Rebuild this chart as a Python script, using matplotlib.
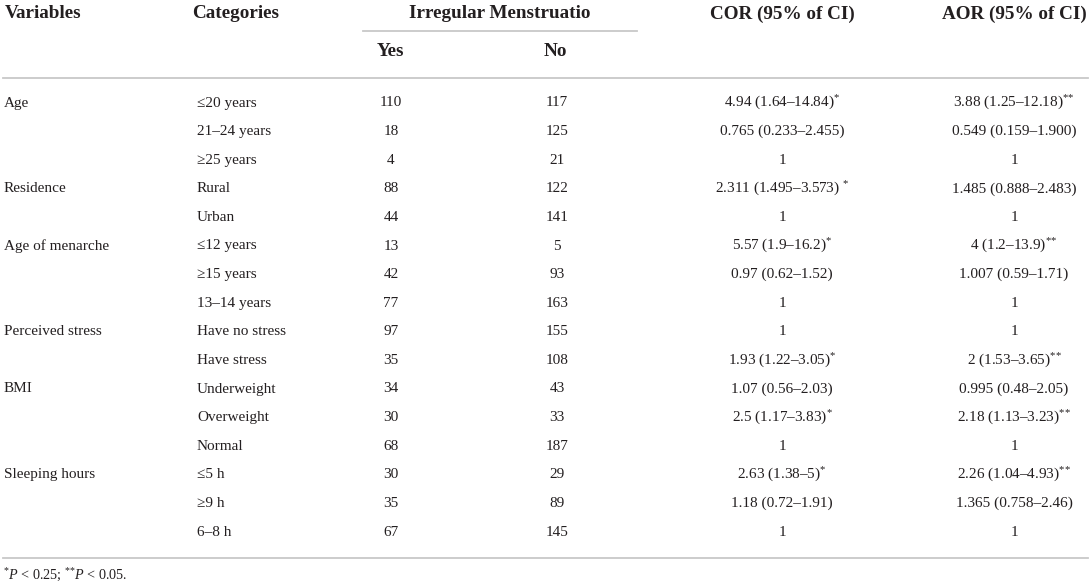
import matplotlib
matplotlib.use("Agg")
import matplotlib.pyplot as plt

plt.rcParams['font.family'] = ['Liberation Serif', 'DejaVu Serif']
plt.rcParams['mathtext.fontset'] = 'custom'
plt.rcParams['mathtext.rm'] = 'Liberation Serif'
plt.rcParams['mathtext.it'] = 'Liberation Serif:italic'

variables = ["Age", "", "", "Residence", "", "Age of menarche", "", "",
             "Perceived stress", "", "BMI", "", "", "Sleeping hours", "", ""]
categories = ["≤20 years", "21–24 years", "≥25 years", "Rural", "Urban",
              "≤12 years", "≥15 years", "13–14 years", "Have no stress",
              "Have stress", "Underweight", "Overweight", "Normal",
              "≤5 h", "≥9 h", "6–8 h"]
yes_counts = [110, 18, 4, 88, 44, 13, 42, 77, 97, 35, 34, 30, 68, 30, 35, 67]
no_counts = [117, 125, 21, 122, 141, 5, 93, 163, 155, 108, 43, 33, 187, 29, 89, 145]
cor = ["4.94 (1.64–14.84)*", "0.765 (0.233–2.455)", "1",
       "2.311 (1.495–3.573) *", "1", "5.57 (1.9–16.2)*", "0.97 (0.62–1.52)",
       "1", "1", "1.93 (1.22–3.05)*", "1.07 (0.56–2.03)", "2.5 (1.17–3.83)*",
       "1", "2.63 (1.38–5)*", "1.18 (0.72–1.91)", "1"]
aor = ["3.88 (1.25–12.18)**", "0.549 (0.159–1.900)", "1",
       "1.485 (0.888–2.483)", "1", "4 (1.2–13.9)**", "1.007 (0.59–1.71)",
       "1", "1", "2 (1.53–3.65)**", "0.995 (0.48–2.05)", "2.18 (1.13–3.23)**",
       "1", "2.26 (1.04–4.93)**", "1.365 (0.758–2.46)", "1"]

ink = "#231f20"
rule = "#c8c8c8"


def stars(n):
    # superscript asterisks without operator spacing
    return "$^{" + "{*}" * n + "}$"


def sup_stars(s):
    core = s.rstrip("* ")
    tail = s[len(core):]
    n = tail.count("*")
    if n == 0:
        return s
    gap = " " if tail.startswith(" ") else ""
    return core + gap + stars(n)


fig = plt.figure(figsize=(10.91, 5.85), dpi=100)
ax = fig.add_axes([0, 0, 1, 1])
ax.set_xlim(0, 1091)
ax.set_ylim(585, 0)
ax.axis("off")

hsize = 13.8
dsize = 11

# header
ax.text(5, 14, "Variables", fontsize=hsize, fontweight="bold", color=ink, va="center")
ax.text(192, 14, "Categories", fontsize=hsize, fontweight="bold", color=ink, va="center")
ax.text(500, 14, "Irregular Menstruatio", fontsize=hsize, fontweight="bold", color=ink,
        va="center", ha="center")
ax.text(782, 14, "COR (95% of CI)", fontsize=hsize, fontweight="bold", color=ink,
        va="center", ha="center")
ax.text(1014, 14, "AOR (95% of CI)", fontsize=hsize, fontweight="bold", color=ink,
        va="center", ha="center")
ax.text(390, 51, "Yes", fontsize=hsize, fontweight="bold", color=ink, va="center", ha="center")
ax.text(555, 51, "No", fontsize=hsize, fontweight="bold", color=ink, va="center", ha="center")

ax.plot([363, 637], [31, 31], color=rule, lw=1.3)
ax.plot([3, 1088], [78, 78], color=rule, lw=1.3)
ax.plot([3, 1088], [557.5, 557.5], color=rule, lw=1.3)

for i in range(len(categories)):
    y = 103 + i * 28.6
    ax.text(4, y, variables[i], fontsize=dsize, color=ink, va="center")
    ax.text(197, y, categories[i], fontsize=dsize, color=ink, va="center")
    ax.text(391, y, str(yes_counts[i]), fontsize=dsize, color=ink, va="center", ha="center")
    ax.text(557, y, str(no_counts[i]), fontsize=dsize, color=ink, va="center", ha="center")
    ax.text(782, y, sup_stars(cor[i]), fontsize=dsize, color=ink, va="center", ha="center")
    ax.text(1014, y, sup_stars(aor[i]), fontsize=dsize, color=ink, va="center", ha="center")

ax.text(3, 575.5, stars(1) + r"$\mathit{P}$ < 0.25; " + stars(2) + r"$\mathit{P}$ < 0.05.",
        fontsize=10.2, color=ink, va="center")

fig.savefig("out.png", dpi=100)
